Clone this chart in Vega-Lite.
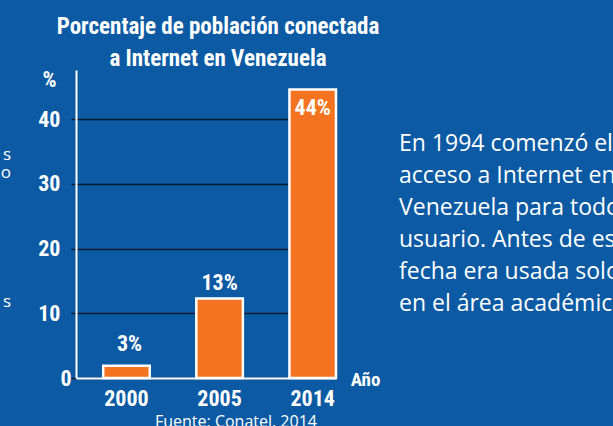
{
  "$schema": "https://vega.github.io/schema/vega-lite/v6.json",
  "background": "#0b5aa3",
  "padding": {"left": 0, "top": 16, "right": 0, "bottom": 0},
  "autosize": {"type": "pad"},
  "config": {"view": {"stroke": null}},
  "title": {"text": "Fuente: Conatel, 2014", "orient": "bottom", "anchor": "start", "frame": "group", "dx": 152, "offset": 5, "font": "Open Sans", "fontSize": 16, "fontWeight": "normal", "color": "white", "baseline": "top"},
  "spacing": 65,
  "bounds": "flush",
  "hconcat": [
    {
      "width": 8,
      "height": 308,
      "data": {"values": [{"line": 0, "t": "s"}, {"line": 1, "t": "o"}, {"line": 8, "t": "s"}]},
      "mark": {"type": "text", "align": "right", "baseline": "alphabetic", "font": "Open Sans", "fontSize": 17, "color": "white"},
      "encoding": {
        "x": {"datum": 1, "type": "quantitative", "scale": {"domain": [0, 1]}, "axis": null},
        "y": {"field": "line", "type": "quantitative", "scale": {"domain": [0, 8], "range": [90, 237]}, "axis": null},
        "text": {"field": "t"}
      }
    },
    {
      "width": 260,
      "height": 308,
      "title": {"text": ["Porcentaje de población conectada", "a Internet en Venezuela"], "font": "Roboto Condensed, DejaVu Sans Condensed, Roboto", "fontSize": 23, "fontWeight": "bold", "color": "white", "lineHeight": 32, "anchor": "middle", "frame": "group", "dx": 12, "offset": -26, "baseline": "bottom"},
      "data": {"values": [
        {"year": "2000", "value": 1.9, "label": "3%"},
        {"year": "2005", "value": 12.3, "label": "13%"},
        {"year": "2014", "value": 44.6, "label": "44%"}
      ]},
      "encoding": {
        "x": {
          "field": "year", "type": "nominal", "sort": null,
          "scale": {"paddingInner": 0.5, "paddingOuter": 0.146, "align": 1},
          "axis": {
            "ticks": false, "tickSize": 0, "labelAngle": 0, "domainColor": "white", "domainWidth": 2,
            "labelColor": "white", "labelFont": "Roboto Condensed, DejaVu Sans Condensed, Roboto", "labelFontSize": 22, "labelFontWeight": "bold", "labelPadding": 10,
            "title": "Año", "titleX": 289, "titleY": 7, "titleAlign": "center", "titleBaseline": "alphabetic",
            "titleColor": "white", "titleFont": "Roboto Condensed, DejaVu Sans Condensed, Roboto", "titleFontSize": 19, "titleFontWeight": "bold"
          }
        },
        "y": {
          "field": "value", "type": "quantitative",
          "scale": {"domain": [0, 47.6], "nice": false},
          "axis": {
            "values": [0, 10, 20, 30, 40], "grid": true, "gridColor": "#0b1b2e", "gridWidth": 1.5,
            "tickColor": "#0b1b2e", "tickSize": 5, "tickWidth": 1.5, "domainColor": "white", "domainWidth": 2,
            "labelColor": "white", "labelFont": "Roboto Condensed, DejaVu Sans Condensed, Roboto", "labelFontSize": 22, "labelFontWeight": "bold",
            "labelPadding": {"condition": {"test": "datum.value === 0", "value": 0}, "value": 11},
            "title": "%", "titleAngle": 0, "titleX": -27, "titleY": 9, "titleAlign": "center", "titleBaseline": "middle",
            "titleColor": "white", "titleFont": "Roboto Condensed, DejaVu Sans Condensed, Roboto", "titleFontSize": 22, "titleFontWeight": "bold"
          }
        }
      },
      "layer": [
        {"mark": {"type": "bar", "color": "#f37321", "stroke": "white", "strokeWidth": 2.5}},
        {
          "transform": [{"filter": "datum.year === '2000'"}],
          "mark": {"type": "text", "baseline": "alphabetic", "dy": -15, "dx": 3, "font": "Roboto Condensed, DejaVu Sans Condensed, Roboto", "fontSize": 22, "fontWeight": "bold", "color": "white"},
          "encoding": {"text": {"field": "label"}}
        },
        {
          "transform": [{"filter": "datum.year === '2005'"}],
          "mark": {"type": "text", "baseline": "alphabetic", "dy": -8, "font": "Roboto Condensed, DejaVu Sans Condensed, Roboto", "fontSize": 22, "fontWeight": "bold", "color": "white"},
          "encoding": {"text": {"field": "label"}}
        },
        {
          "transform": [{"filter": "datum.year === '2014'"}],
          "mark": {"type": "text", "baseline": "alphabetic", "dy": 26, "font": "Roboto Condensed, DejaVu Sans Condensed, Roboto", "fontSize": 22, "fontWeight": "bold", "color": "white"},
          "encoding": {"text": {"field": "label"}}
        }
      ]
    },
    {
      "width": 216,
      "height": 308,
      "data": {"values": [
        {"line": 0, "t": "En 1994 comenzó el"},
        {"line": 1, "t": "acceso a Internet en"},
        {"line": 2, "t": "Venezuela para todo"},
        {"line": 3, "t": "usuario. Antes de esta"},
        {"line": 4, "t": "fecha era usada solo"},
        {"line": 5, "t": "en el área académica."}
      ]},
      "mark": {"type": "text", "align": "left", "baseline": "alphabetic", "dx": -2, "font": "Open Sans", "fontSize": 23, "color": "white"},
      "encoding": {
        "x": {"datum": 0, "type": "quantitative", "scale": {"domain": [0, 1]}, "axis": null},
        "y": {"field": "line", "type": "quantitative", "scale": {"domain": [0, 5], "range": [81, 241]}, "axis": null},
        "text": {"field": "t"}
      }
    }
  ]
}
